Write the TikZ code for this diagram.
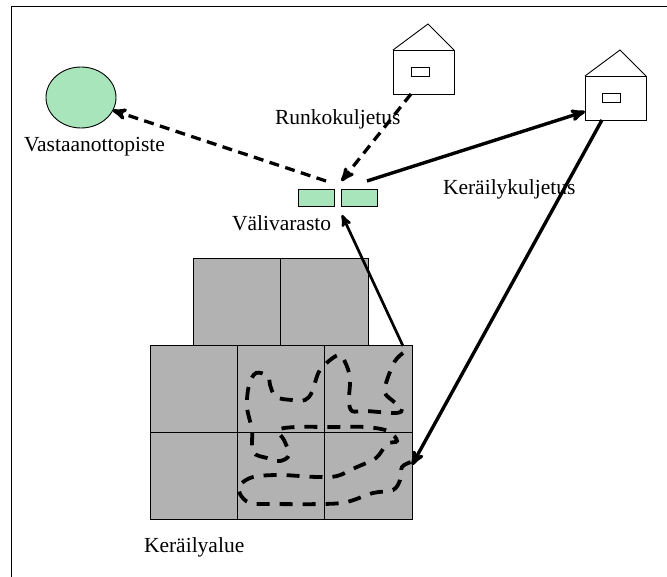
\documentclass[tikz,border=0pt]{standalone}
\usepackage{fontspec}
\setmainfont{Liberation Serif}
\usetikzlibrary{arrows,positioning,shapes.geometric}
\definecolor{vihrea}{HTML}{A9E5BB}
\definecolor{harmaa}{HTML}{B2B2B2}
\begin{document}
\begin{tikzpicture}[x=1pt,y=-1pt,>=stealth',
    every node/.style={inner sep=0pt,outer sep=0pt},
    nimi/.style={anchor=base west,font=\fontsize{21.5}{24}\selectfont},
    varasto/.style={draw,line width=.9pt,fill=vihrea,minimum width=36pt,minimum height=17pt},
    talo/.style={draw,line width=.9pt,fill=white,minimum width=61pt,minimum height=44pt},
    ikkuna/.style={draw,line width=.9pt,fill=white,minimum width=18pt,minimum height=9pt},
    ruutu/.style={draw,line width=.9pt,fill=harmaa,minimum width=87.3pt,minimum height=87pt},
    kuljetus/.style={->,line width=3.3pt,dash pattern=on 10pt off 6.5pt},
    ajo/.style={->,line width=3.4pt},
    reitti/.style={line width=3.8pt,dash pattern=on 13pt off 10pt}]
  \useasboundingbox (0,0) rectangle (667,577);
  \draw[line width=1.1pt] (11.5,577) -- (11.5,6.5) -- (667,6.5);

  \node[draw,ellipse,line width=.9pt,fill=vihrea,minimum width=70pt,minimum height=61pt] (piste) at (81,97.5) {};
  \node[varasto] (V1) at (316,197.5) {};
  \node[varasto,right=7pt of V1] (V2) {};

  % talot
  \node[talo] (T1) at (423.5,72) {};
  \node[ikkuna] (I1) at (420,71.5) {};
  \draw[line width=.9pt] (T1.north west) -- (428,24) -- (T1.north east);
  \node[talo] (T2) at (615.5,98) {};
  \node[ikkuna] (I2) at (611,98) {};
  \draw[line width=.9pt] (T2.north west) -- (620,50) -- (T2.north east);

  % kerailyalue
  \node[ruutu] (R1) at (237.5,302) {};
  \node[ruutu] (R2) at (324.5,302) {};
  \node[ruutu] (R3) at (193.8,389) {};
  \node[ruutu] (R4) at (281,389) {};
  \node[ruutu] (R5) at (368.3,389) {};
  \node[ruutu] (R6) at (193.8,476) {};
  \node[ruutu] (R7) at (281,476) {};
  \node[ruutu] (R8) at (368.3,476) {};

  \draw[reitti] plot[smooth,tension=.55] coordinates {(403,353) (395,361) (387,380) (385,393) (393,401) (402,409) (396,413) (366,411) (352,411) (349,400) (350,378) (345,362) (338,355) (320,370) (312,392) (305,400) (292,400) (276,397) (270,385) (268,376) (256,373) (249,385) (247,407) (252,430) (253,452) (267,458) (280,461) (289,455) (284,440) (278,430) (296,427) (330,427) (365,427) (388,431) (397,441) (387,444) (376,458) (357,467) (337,476) (317,477) (280,475) (253,477) (240,485) (240,494) (250,503) (273,504) (323,504) (347,502) (373,493) (393,490) (400,480) (402,467) (411,462)};

  % kuljetukset
  \coordinate (P1) at (326,181);
  \coordinate (P2) at (341.5,181);
  \coordinate (P3) at (367,181);
  \coordinate (P4) at (342,215);
  \coordinate (P5) at (403,346);
  \coordinate (P6) at (412,465);
  \coordinate (P7) at (585,111.5);
  \draw[kuljetus] (P1) -- (piste.-22);
  \draw[kuljetus] (T1.south west -| I1.west) -- (P2);
  \draw[ajo] (P3) -- (P7);
  \draw[ajo] (T2.south -| I2.west) -- (P6);
  \draw[->,line width=2.7pt] (P5) -- (P4);

  \node[nimi] (vastaanotto) at (24,152) {Vastaanottopiste};
  \node[nimi] (runko) at (275,125) {Runkokuljetus};
  \node[nimi] (keraily) at (443,195) {Keräilykuljetus};
  \node[nimi] (vali) at (232,231) {Välivarasto};
  \node[nimi] (alue) at (144,552) {Keräilyalue};
\end{tikzpicture}
\end{document}
